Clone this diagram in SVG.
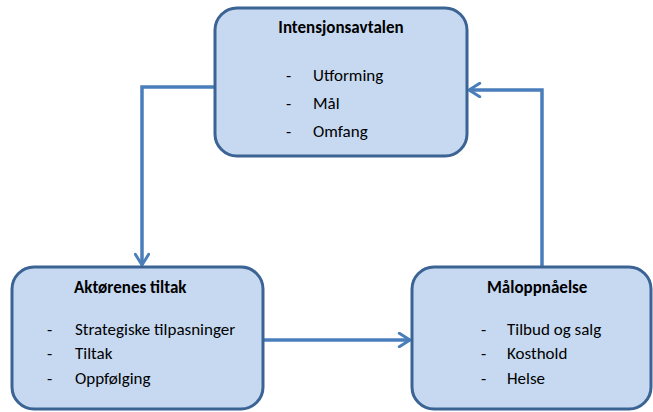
<svg xmlns="http://www.w3.org/2000/svg" width="653" height="412" viewBox="0 0 653 412">
<style>
.box{fill:#c6d9f1;stroke:#3b6494;stroke-width:3}
.t{font-family:Carlito,Lato,"Liberation Sans",sans-serif;font-size:17px;fill:#000}
.b{font-weight:bold}
.c{fill:none;stroke:#4a7ebb;stroke-width:3.5}
</style>
<defs>
<marker id="ar" viewBox="0 0 12 12" refX="10" refY="6" markerWidth="4.6" markerHeight="4.6" orient="auto" markerUnits="strokeWidth">
<polyline points="2,1 10,6 2,11" fill="none" stroke="#4a7ebb" stroke-width="2.2" stroke-linecap="round" stroke-linejoin="round"/>
</marker>
</defs>
<g id="connectors">
<polyline class="c" points="215,87 142,87 142,265" marker-end="url(#ar)"/>
<polyline class="c" points="263,340 410,340" marker-end="url(#ar)"/>
<polyline class="c" points="542,267 542,90 469,90" marker-end="url(#ar)"/>
</g>
<g id="intensjonsavtalen">
<rect class="box" x="215" y="8" width="252" height="148" rx="22"/>
<text class="t b" x="341" y="33" text-anchor="middle">Intensjonsavtalen</text>
<text class="t" x="286" y="81">-</text><text class="t" x="313" y="81">Utforming</text>
<text class="t" x="286" y="109">-</text><text class="t" x="313" y="109">Mål</text>
<text class="t" x="286" y="137">-</text><text class="t" x="313" y="137">Omfang</text>
</g>
<g id="aktorenes">
<rect class="box" x="12" y="267" width="251" height="142" rx="22"/>
<text class="t b" x="74" y="293">Aktørenes tiltak</text>
<text class="t" x="47" y="335">-</text><text class="t" x="75" y="335">Strategiske tilpasninger</text>
<text class="t" x="47" y="359">-</text><text class="t" x="75" y="359">Tiltak</text>
<text class="t" x="47" y="384">-</text><text class="t" x="75" y="384">Oppfølging</text>
</g>
<g id="maloppnaelse">
<rect class="box" x="412" y="267" width="239" height="142" rx="22"/>
<text class="t b" x="487" y="293">Måloppnåelse</text>
<text class="t" x="481" y="335">-</text><text class="t" x="507" y="335">Tilbud og salg</text>
<text class="t" x="481" y="359">-</text><text class="t" x="507" y="359">Kosthold</text>
<text class="t" x="481" y="384">-</text><text class="t" x="507" y="384">Helse</text>
</g>
</svg>
